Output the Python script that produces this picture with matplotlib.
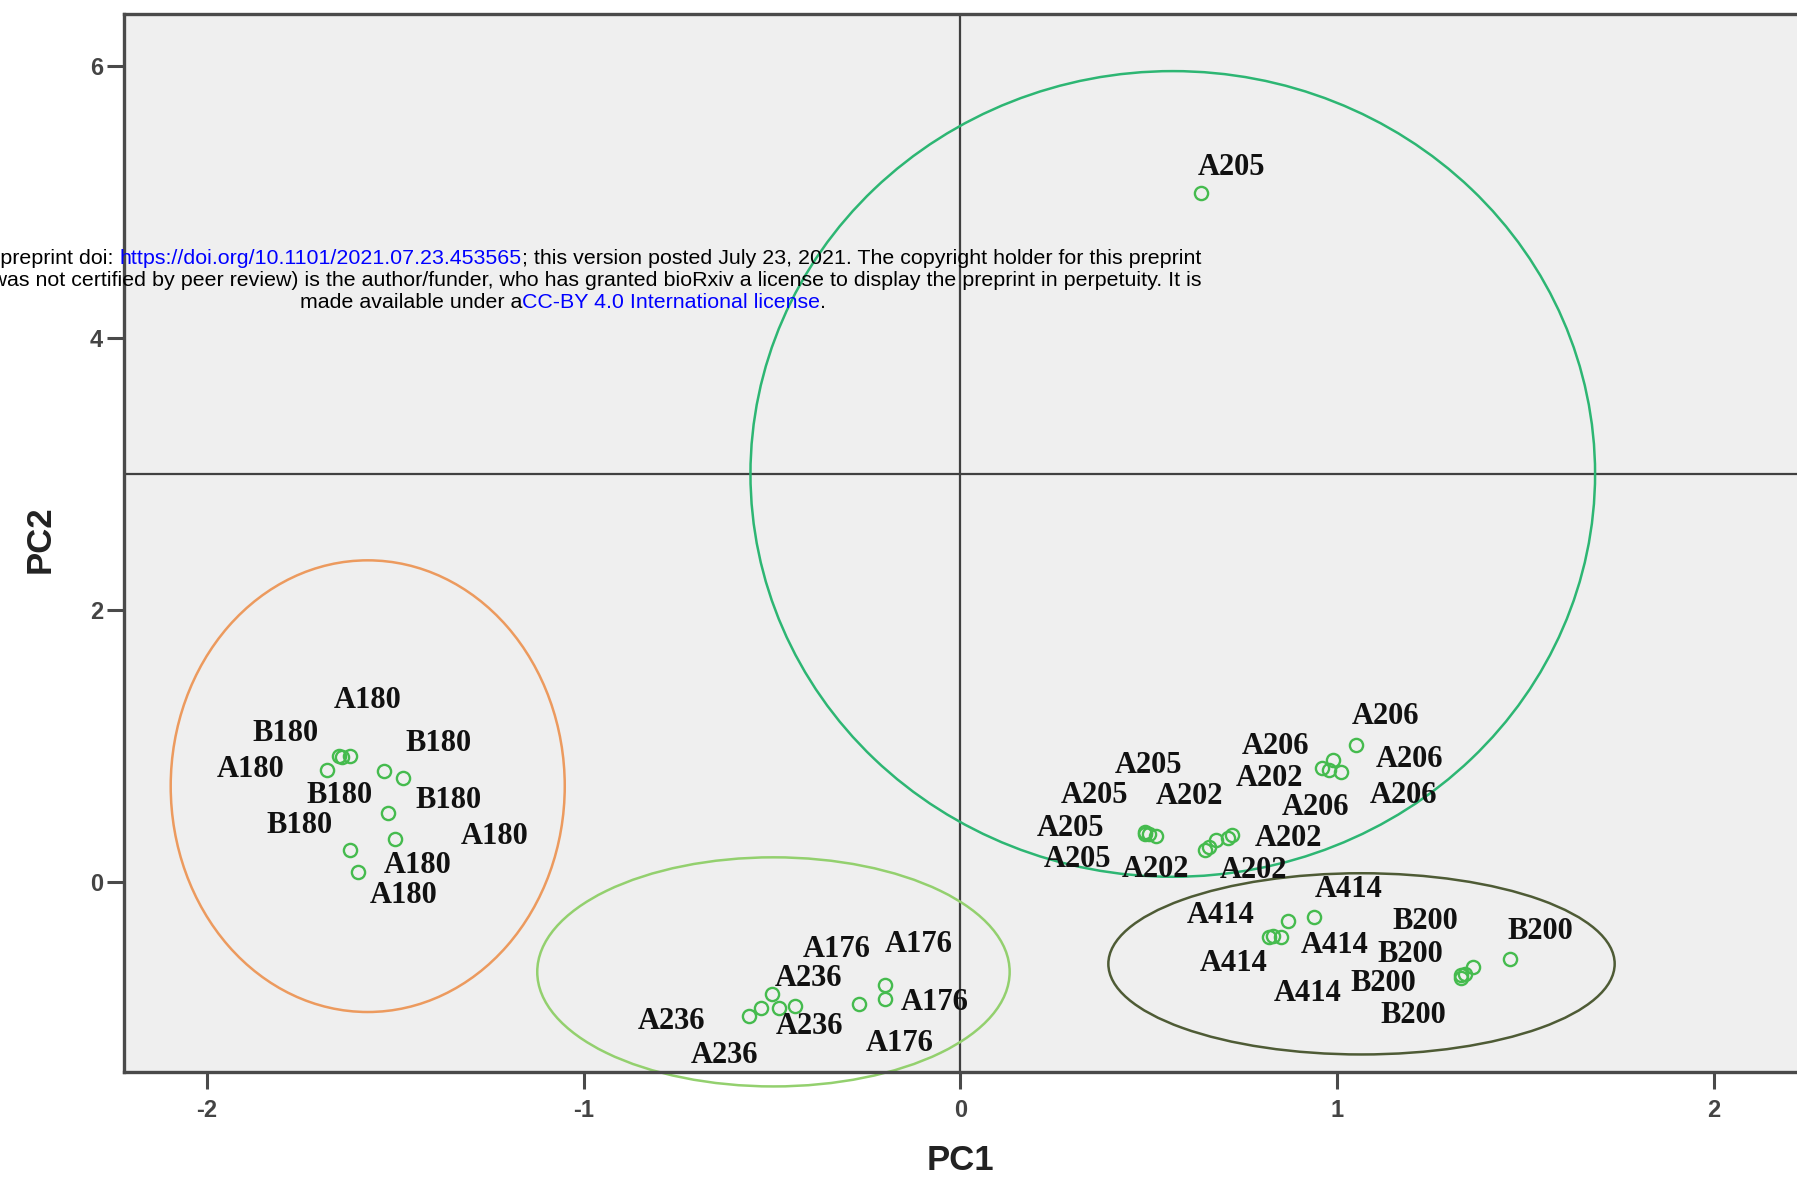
import matplotlib
matplotlib.use('Agg')
import matplotlib.pyplot as plt
from matplotlib.patches import Ellipse

# ---------------- data ----------------
sample_labels = [
    'A180', 'B180', 'B180', 'A180', 'B180', 'B180', 'B180', 'A180', 'A180', 'A180',
    'A236', 'A236', 'A236', 'A236', 'A176', 'A176', 'A176', 'A176',
    'A205', 'A205', 'A205', 'A205', 'A205',
    'A202', 'A202', 'A202', 'A202', 'A202',
    'A206', 'A206', 'A206', 'A206', 'A206',
    'A414', 'A414', 'A414', 'A414', 'A414',
    'B200', 'B200', 'B200', 'B200', 'B200',
]
pc1 = [
    -1.62, -1.65, -1.53, -1.68, -1.64, -1.48, -1.62, -1.50, -1.52, -1.60,
    -0.56, -0.50, -0.44, -0.53, -0.48, -0.20, -0.20, -0.27,
    0.49, 0.49, 0.50, 0.52, 0.64,
    0.72, 0.68, 0.71, 0.65, 0.66,
    1.05, 0.96, 0.99, 1.01, 0.98,
    0.94, 0.82, 0.87, 0.83, 0.85,
    1.36, 1.46, 1.34, 1.33, 1.33,
]
pc2 = [
    0.93, 0.93, 0.82, 0.83, 0.92, 0.77, 0.24, 0.32, 0.51, 0.08,
    -0.98, -0.82, -0.91, -0.92, -0.92, -0.75, -0.86, -0.89,
    0.37, 0.36, 0.36, 0.34, 5.07,
    0.35, 0.31, 0.33, 0.24, 0.26,
    1.01, 0.84, 0.90, 0.81, 0.83,
    -0.25, -0.40, -0.28, -0.39, -0.40,
    -0.62, -0.56, -0.67, -0.68, -0.70,
]

# group ellipses (center x, center y, half-width, half-height)
ellipse_cx = [-1.573, -0.496, 1.065, 0.564]
ellipse_cy = [0.708, -0.657, -0.598, 3.003]
ellipse_rx = [0.523, 0.627, 0.672, 1.121]
ellipse_ry = [1.66, 0.842, 0.666, 2.961]

ref_x = 0.0
ref_y = 3.0
x_ticks = [-2, -1, 0, 1, 2]
y_ticks = [0, 2, 4, 6]

# ---------------- layout / style ----------------
label_offsets_pt = [
    (12.4, 39.6), (-38, 16.5), (39.6, 19.8), (-55.3, 0), (-2.5, -27.2),
    (33, -16.5), (-36.3, 17.3), (71.8, 1.7), (21.5, -38), (33, -17.3),
    (-56.1, -3.9), (26.6, 11.1), (10.6, -14.2), (-26.1, -34.7),
    (41.1, 42.1), (24.1, 28.5), (35.6, -2.0), (29.7, -28.9),
    (2.4, 48), (-36.5, 27.6), (-56.3, 3.6), (-56.5, -16.7), (21.6, 18.5),
    (27.6, 40.3), (-19.2, 31.2), (43.5, -0.9), (-36, -14.4), (31.9, -16.7),
    (21.6, 20.4), (-33.6, 15.6), (55.2, 0.5), (45.5, -16.7), (-10.3, -27.5),
    (24.8, 19.8), (-34.7, 15.7), (33.8, -18.2), (-28, -19.8), (19.8, -40.4),
    (-33.8, 33), (21.5, 19.8), (-39.6, 14), (-56.1, -5.8), (-34.7, -27.2),
]
ellipse_colors = ['#EC9A5E', '#93D06E', '#4E5B35', '#2DB673']
point_color = '#45BB4E'
spine_color = '#4A4A4A'

W, H = 1797, 1181
fig = plt.figure(figsize=(W / 100, H / 100), dpi=100)
fig.patch.set_facecolor('white')
ax = fig.add_axes([123.8 / W, 1 - 1071.6 / H, 1 - 123.8 / W, (1071.6 - 13.7) / H])
ax.set_facecolor('#EFEFEF')
ax.set_xlim(-2.2205, 2.221)
ax.set_ylim(-1.39, 6.386)

for sp in ['left', 'top', 'bottom']:
    ax.spines[sp].set_color(spine_color)
    ax.spines[sp].set_linewidth(2.4)
    ax.spines[sp].set_zorder(5)
ax.spines['right'].set_visible(False)

ax.axvline(ref_x, color='#404040', lw=1.6, zorder=1)
ax.axhline(ref_y, color='#404040', lw=1.6, zorder=1)

for cx, cy, rx, ry, c in zip(ellipse_cx, ellipse_cy, ellipse_rx, ellipse_ry, ellipse_colors):
    ax.add_patch(Ellipse((cx, cy), 2 * rx, 2 * ry, fill=False, edgecolor=c, lw=1.8,
                         zorder=2, clip_on=False))

ax.plot(pc1, pc2, linestyle='none', marker='o', markersize=9.5, markerfacecolor='none',
        markeredgecolor=point_color, markeredgewidth=1.7, zorder=3)

for lab, x, y, (dx, dy) in zip(sample_labels, pc1, pc2, label_offsets_pt):
    ax.annotate(lab, (x, y), xytext=(dx, dy), textcoords='offset points',
                ha='center', va='center', fontsize=22, fontweight='bold',
                family='Liberation Serif', color='#111111', zorder=4)

ax.set_xticks(x_ticks)
ax.set_yticks(y_ticks)
ax.set_xticklabels([str(t) for t in x_ticks])
ax.set_yticklabels([str(t) for t in y_ticks])
ax.tick_params(axis='both', direction='out', length=12, width=2.2, color=spine_color,
               labelsize=17, labelcolor='#444444')
ax.tick_params(axis='y', pad=3)
ax.tick_params(axis='x', pad=8)
for t in ax.get_xticklabels() + ax.get_yticklabels():
    t.set_family('Liberation Sans')
    t.set_fontweight('bold')

fig.text(960.4 / W, 1 - 1161 / H, 'PC1', ha='center', va='center', fontsize=25,
         fontweight='bold', family='Liberation Sans', color='#222222')
fig.text(40 / W, 1 - 539 / H, 'PC2', ha='center', va='center', rotation=90, fontsize=25,
         fontweight='bold', family='Liberation Sans', color='#222222')

# ---------------- bioRxiv watermark ----------------
wm_lines = [
    [('bioRxiv preprint doi: ', 'black'), ('https://doi.org/10.1101/2021.07.23.453565', '#0000FF'),
     ('; this version posted July 23, 2021. The copyright holder for this preprint', 'black')],
    [('(which was not certified by peer review) is the author/funder, who has granted bioRxiv a license to display the preprint in perpetuity. It is', 'black')],
    [('made available under a', 'black'), ('CC-BY 4.0 International license', '#0000FF'), ('.', 'black')],
]
wm_center_px = 562.7
wm_baseline_px = [264, 286, 308]
fig.canvas.draw()
renderer = fig.canvas.get_renderer()
for pieces, ybase in zip(wm_lines, wm_baseline_px):
    texts = []
    for s, c in pieces:
        t = fig.text(0, 1 - ybase / H, s, ha='left', va='baseline', fontsize=15.4,
                     family='Liberation Sans', color=c, zorder=10)
        texts.append(t)
    widths = [t.get_window_extent(renderer).width for t in texts]
    total = sum(widths)
    x = wm_center_px - total / 2
    for t, w in zip(texts, widths):
        t.set_x(x / W)
        x += w

fig.savefig('out.png', dpi=100, facecolor='white')
